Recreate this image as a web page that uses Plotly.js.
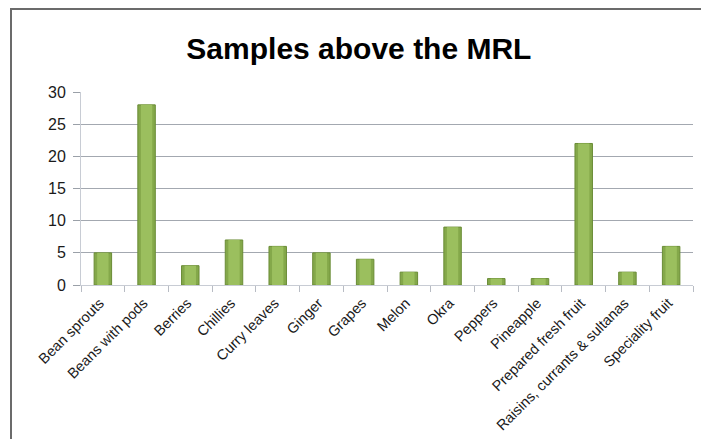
<!DOCTYPE html>
<html>
<head>
<meta charset="utf-8">
<script src="https://cdn.plot.ly/plotly-3.0.1.min.js"></script>
<style>
html,body{margin:0;padding:0;background:#fff;overflow:hidden;}
#frame{position:absolute;left:10px;top:8px;width:720px;height:460px;border-left:2px solid #6b6b6b;border-top:2px solid #6b6b6b;}
#chart{position:absolute;left:0;top:0;width:701px;height:439px;}
</style>
</head>
<body>
<div id="frame"></div>
<div id="chart"></div>
<script>
const categories = ["Bean sprouts","Beans with pods","Berries","Chillies","Curry leaves","Ginger","Grapes","Melon","Okra","Peppers","Pineapple","Prepared fresh fruit","Raisins, currants & sultanas","Speciality fruit"];
const samplesAboveMRL = [5, 28, 3, 7, 6, 5, 4, 2, 9, 1, 1, 22, 2, 6];
const yTicks = [0, 5, 10, 15, 20, 25, 30];

const FONT = 'Liberation Sans, Arial, Helvetica, sans-serif';

const outer = {
  type: 'bar',
  x: categories,
  y: samplesAboveMRL,
  width: 0.4,
  marker: {color: '#84a84a', line: {color: '#6a8c36', width: 1}},
  hoverinfo: 'x+y'
};
const inner = {
  type: 'bar',
  x: categories,
  y: samplesAboveMRL,
  width: 0.26,
  marker: {color: '#9bbf5e', line: {width: 0}},
  hoverinfo: 'skip'
};

const layout = {
  width: 701,
  height: 439,
  margin: {l: 81, r: 8, t: 92, b: 154},
  paper_bgcolor: 'rgba(0,0,0,0)',
  plot_bgcolor: 'rgba(0,0,0,0)',
  barmode: 'overlay',
  showlegend: false,
  title: {
    text: '<b>Samples above the MRL</b>',
    font: {family: FONT, size: 30, color: '#000'},
    x: 0.512, xanchor: 'center',
    y: 0.89, yanchor: 'middle'
  },
  xaxis: {
    type: 'category',
    tickangle: -45,
    tickson: 'boundaries',
    ticks: 'outside',
    ticklen: 6,
    tickcolor: '#b8bcc4',
    tickwidth: 1,
    showline: true,
    linecolor: '#c8ccd4',
    linewidth: 1,
    showgrid: false,
    ticklabelstandoff: 3,
    ticklabelshift: -3,
    tickfont: {family: FONT, size: 14.5, color: '#1a1a1a'},
    fixedrange: true
  },
  yaxis: {
    range: [0, 30],
    tickvals: yTicks,
    ticktext: yTicks.map(String),
    ticks: 'outside',
    ticklen: 7,
    tickcolor: '#9aa0a8',
    showline: true,
    linecolor: '#c8ccd4',
    linewidth: 1,
    showgrid: true,
    gridcolor: '#a3a8b0',
    gridwidth: 1,
    zeroline: false,
    ticklabelstandoff: 4,
    tickfont: {family: FONT, size: 16, color: '#1a1a1a'},
    fixedrange: true
  }
};

Plotly.newPlot('chart', [outer, inner], layout, {displayModeBar: false, staticPlot: true});
</script>
</body>
</html>
